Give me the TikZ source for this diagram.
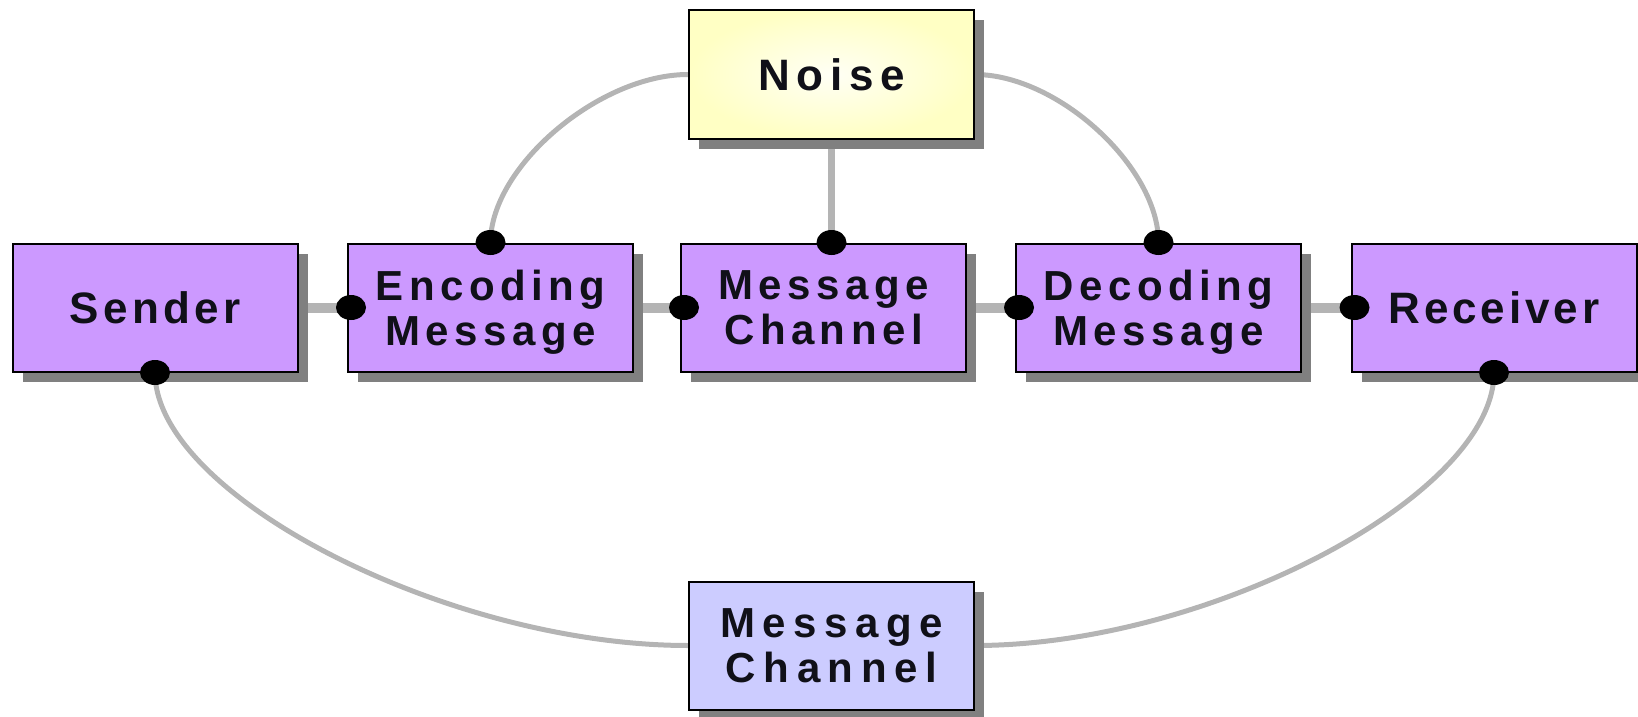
\documentclass[tikz,border=0pt]{standalone}
\usepackage{fontspec}
\setmainfont{Liberation Sans}
\usetikzlibrary{shadows,calc,backgrounds}
\definecolor{boxpurple}{HTML}{CC99FF}
\definecolor{boxblue}{HTML}{CCCCFF}
\definecolor{noiseedge}{HTML}{FFFFC4}
\definecolor{noisecenter}{HTML}{FFFFF5}
\definecolor{shadowgray}{HTML}{808080}
\definecolor{linkgray}{HTML}{B4B4B4}
\definecolor{textdark}{HTML}{101018}
\begin{document}
\begin{tikzpicture}[x=1pt,y=-1pt,
  box/.style={draw=black, line width=2pt, minimum width=285pt, minimum height=128pt,
    inner sep=0pt, align=center, text=textdark, text depth=0pt,
    font={\fontsize{42}{45}\selectfont\bfseries\addfontfeature{LetterSpace=13}},
    drop shadow={shadow xshift=10pt, shadow yshift=-10pt, fill=shadowgray, opacity=1}},
  purplebox/.style={box, fill=boxpurple},
  thicklink/.style={draw=linkgray, line width=10pt},
  vlink/.style={draw=linkgray, line width=7pt},
  curvelink/.style={draw=linkgray, line width=5pt}]
\useasboundingbox (0,0) rectangle (1638,717);
\node[purplebox, font={\fontsize{44}{47}\selectfont\bfseries\addfontfeature{LetterSpace=10}}] (S) at (155,307.5) {Sender};
\node[purplebox] (E) at (490.5,307.5) {Encoding\\Message};
\node[purplebox] (M) at (823.5,307.5) {Message\\Channel};
\node[purplebox] (D) at (1158.5,307.5) {Decoding\\Message};
\node[purplebox, font={\fontsize{44}{47}\selectfont\bfseries\addfontfeature{LetterSpace=9}}] (R) at (1494,307.5) {Receiver};
\node[box, inner color=noisecenter, outer color=noiseedge,
  font={\fontsize{44}{47}\selectfont\bfseries\addfontfeature{LetterSpace=15}}] (N) at (831.5,74.5) {Noise};
\node[box, fill=boxblue, font={\fontsize{42}{45}\selectfont\bfseries\addfontfeature{LetterSpace=18}}] (B) at (831.5,645.5) {Message\\Channel};
\coordinate (Mtop) at (N.south |- M.north);
\begin{scope}[on background layer]
  \draw[thicklink] (S.east) -- (E.west);
  \draw[thicklink] (E.east) -- (M.west);
  \draw[thicklink] (M.east) -- (D.west);
  \draw[thicklink] (D.east) -- (R.west);
  \draw[vlink] (N.south) -- (Mtop);
  \coordinate (K1) at (N.west -| E.north);
  \draw[curvelink] (N.west) .. controls ($(N.west)!0.45!(K1)$) and ($(E.north)!0.45!(K1)$) .. (E.north);
  \coordinate (K2) at (N.east -| D.north);
  \draw[curvelink] (N.east) .. controls ($(N.east)!0.45!(K2)$) and ($(D.north)!0.45!(K2)$) .. (D.north);
  \coordinate (K3) at (S.south |- B.west);
  \draw[curvelink] (S.south) .. controls ($(S.south)!0.45!(K3)$) and ($(B.west)!0.45!(K3)$) .. (B.west);
  \coordinate (K4) at (R.south |- B.east);
  \draw[curvelink] (R.south) .. controls ($(R.south)!0.45!(K4)$) and ($(B.east)!0.45!(K4)$) .. (B.east);
\end{scope}
\foreach \p in {E.west, M.west, D.west, R.west}
  \fill[black] ([xshift=4pt]\p) ellipse [x radius=15pt, y radius=12.5pt];
\foreach \p in {E.north, Mtop, D.north, S.south, R.south}
  \fill[black] (\p) ellipse [x radius=15pt, y radius=12.5pt];
\end{tikzpicture}
\end{document}
